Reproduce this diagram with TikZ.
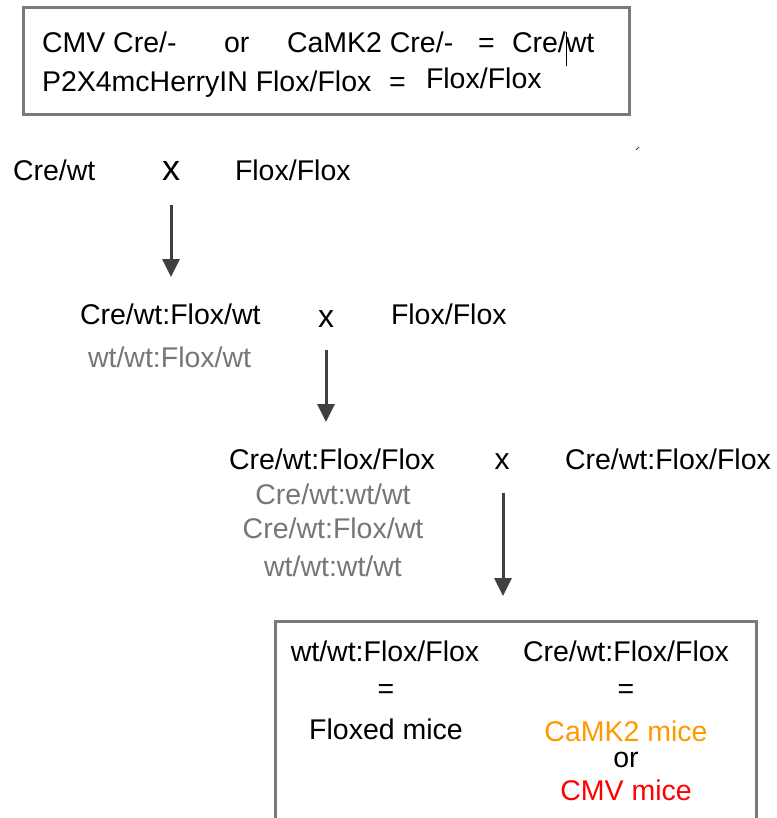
\documentclass[tikz,border=0pt]{standalone}
\usepackage{fontspec}
\setmainfont{Liberation Sans}
\usetikzlibrary{arrows.meta}
\definecolor{boxgray}{HTML}{7A7A7A}
\definecolor{txtgray}{HTML}{777777}
\definecolor{arrgray}{HTML}{404040}
\definecolor{camk}{HTML}{FF9900}
\definecolor{cmvred}{HTML}{FF0000}
\begin{document}
\begin{tikzpicture}[x=1pt,y=-1pt,
  every node/.style={inner sep=0pt, outer sep=0pt, font=\fontsize{28.5}{34}\selectfont},
  lt/.style={anchor=base west},
  ct/.style={anchor=base},
  gr/.style={text=txtgray},
  cross/.style={anchor=base, font=\fontsize{#1}{#1}\selectfont},
  boxline/.style={draw=boxgray, line width=3pt},
  arr/.style={draw=arrgray, line width=3pt, -{Triangle[width=17pt,length=18pt]}}]
\useasboundingbox[fill=white] (0,0) rectangle (776,818);
% top legend box
\draw[boxline] (23,8) rectangle (629,115);
\node[lt] (l1a) at (42,53) {CMV Cre/-};
\node[lt] (l1b) at (224,53) {or};
\node[lt] (l1c) at (287,53) {CaMK2 Cre/-};
\node[lt] (l1d) at (478,53) {=};
\node[lt] (l1e) at (512,53) {Cre/wt};
\draw[black, line width=1pt] (566,32) -- (566,66);
\node[lt] (l2a) at (42,92) {P2X4mcHerryIN Flox/Flox};
\node[lt] (l2b) at (389,92) {=};
\node[lt] (l2c) at (426,89) {Flox/Flox};
\draw[arrgray, line width=1pt] (636,150) -- (639,147);
% generation 1
\node[lt] (g1a) at (13,181) {Cre/wt};
\node[cross=36] (g1x) at (171,181) {x};
\node[lt] (g1b) at (235,181) {Flox/Flox};
\coordinate (a1s) at (171,205);
\coordinate (a1e) at (171,277);
\draw[arr] (a1s) -- (a1e);
% generation 2
\node[lt] (g2a) at (80,324) {Cre/wt:Flox/wt};
\node[cross=32] (g2x) at (326,327) {x};
\node[lt] (g2b) at (391,324) {Flox/Flox};
\node[lt, gr] (g2c) at (88,367) {wt/wt:Flox/wt};
\coordinate (a2s) at (326,350);
\coordinate (a2e) at (326,422);
\draw[arr] (a2s) -- (a2e);
% generation 3
\node[ct] (g3a) at (332,469) {Cre/wt:Flox/Flox};
\node[cross=30] (g3x) at (502,469) {x};
\node[lt] (g3b) at (565,469) {Cre/wt:Flox/Flox};
\node[ct, gr] (g3c) at (333,504) {Cre/wt:wt/wt};
\node[ct, gr] (g3d) at (333,538) {Cre/wt:Flox/wt};
\node[ct, gr] (g3e) at (333,576) {wt/wt:wt/wt};
\coordinate (a3s) at (503,493);
\coordinate (a3e) at (503,596);
\draw[arr] (a3s) -- (a3e);
% result box
\draw[boxline] (275,830) -- (275,621) -- (756,621) -- (756,830);
\node[ct] (r1a) at (385,661) {wt/wt:Flox/Flox};
\node[ct] (r1b) at (386,698) {=};
\node[ct] (r1c) at (386,739) {Floxed mice};
\node[ct] (r2a) at (626,661) {Cre/wt:Flox/Flox};
\node[ct] (r2b) at (626,698) {=};
\node[ct, text=camk] (r2c) at (626,741) {CaMK2 mice};
\node[ct] (r2d) at (626,767) {or};
\node[ct, text=cmvred] (r2e) at (626,800) {CMV mice};
\end{tikzpicture}
\end{document}
